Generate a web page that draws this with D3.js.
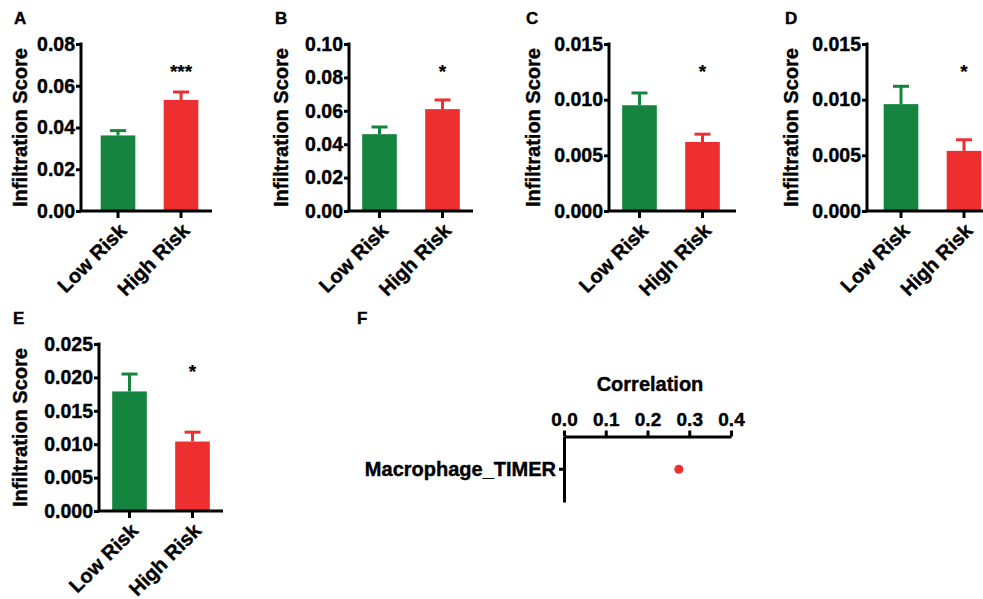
<!DOCTYPE html>
<html lang="en">
<head>
  <meta charset="UTF-8" />
  <title>Infiltration Score panels</title>
  <script src="https://d3js.org/d3.v7.min.js"></script>
  <style>
    body { margin: 0; background: white; }
    svg { background: white; display: block; }
    text { font-family: "Liberation Sans", Arial, sans-serif; font-weight: bold; fill: #000; stroke: #000; stroke-width: 0.4px; }
    .axis path, .axis line { stroke: #000; stroke-width: 3px; }
    .axis text { font-size: 19.5px; font-family: "Liberation Sans", Arial, sans-serif; font-weight: bold; stroke: #000; stroke-width: 0.4px; }
    .panel-letter { font-size: 17px; }
    .axis-title { font-size: 20px; }
    .star { font-size: 19px; text-anchor: middle; stroke-width: 0.2px; }
  </style>
</head>
<body>
  <svg width="983" height="599"></svg>

  <script>
    // data
    const groups = ["Low Risk", "High Risk"];
    const panelIds = ["A", "B", "C", "D", "E"];
    const lowMean = [0.0362, 0.0460, 0.0095, 0.0096, 0.0179];
    const lowSem = [0.0023, 0.0043, 0.0011, 0.0016, 0.0026];
    const highMean = [0.0532, 0.0610, 0.0062, 0.0054, 0.0104];
    const highSem = [0.0038, 0.0055, 0.0007, 0.0010, 0.0014];
    const yMax = [0.08, 0.10, 0.015, 0.015, 0.025];
    const yStep = [0.02, 0.02, 0.005, 0.005, 0.005];
    const yFormat = [".2f", ".2f", ".3f", ".3f", ".3f"];
    const stars = ["***", "*", "*", "*", "*"];

    const corrCells = ["Macrophage_TIMER"];
    const corrValues = [0.275];
    const corrTicks = [0, 0.1, 0.2, 0.3, 0.4];

    const green = "#15843f";
    const red = "#ee2f2f";

    const svg = d3.select("svg");

    // where each bar panel sits on the page
    const layout = [
      { ax: 81,  x0: 86.5,  xEnd: 212, top: 44,  bottom: 211, titleX: 20,  letterX: 14 },
      { ax: 349, x0: 348,   xEnd: 473, top: 44,  bottom: 211, titleX: 281, letterX: 275 },
      { ax: 609, x0: 608,   xEnd: 736, top: 44,  bottom: 211, titleX: 533, letterX: 526 },
      { ax: 867, x0: 869.5, xEnd: 990, top: 44,  bottom: 211, titleX: 791, letterX: 785 },
      { ax: 99,  x0: 98,    xEnd: 223, top: 344, bottom: 511, titleX: 20,  letterX: 13 }
    ];

    panelIds.forEach((id, i) => {
      const L = layout[i];
      const g = svg.append("g");

      const x = d3.scaleBand()
        .domain(groups)
        .range([L.x0, L.x0 + 126])
        .paddingInner(0.45)
        .paddingOuter(0.225);

      const y = d3.scaleLinear()
        .domain([0, yMax[i]])
        .range([L.bottom, L.top]);

      const rows = groups.map((grp, j) => ({
        grp,
        mean: j === 0 ? lowMean[i] : highMean[i],
        sem: j === 0 ? lowSem[i] : highSem[i],
        color: j === 0 ? green : red
      }));

      // bars
      g.selectAll(".bar")
        .data(rows)
        .enter()
        .append("rect")
        .attr("x", d => x(d.grp))
        .attr("width", x.bandwidth())
        .attr("y", d => y(d.mean))
        .attr("height", d => y(0) - y(d.mean))
        .attr("fill", d => d.color);

      // error bars (mean + SEM)
      g.selectAll(".err")
        .data(rows)
        .enter()
        .append("line")
        .attr("x1", d => x(d.grp) + x.bandwidth() / 2)
        .attr("x2", d => x(d.grp) + x.bandwidth() / 2)
        .attr("y1", d => y(d.mean))
        .attr("y2", d => y(d.mean + d.sem))
        .attr("stroke", d => d.color)
        .attr("stroke-width", 3);

      g.selectAll(".cap")
        .data(rows)
        .enter()
        .append("line")
        .attr("x1", d => x(d.grp) + x.bandwidth() / 2 - 8)
        .attr("x2", d => x(d.grp) + x.bandwidth() / 2 + 8)
        .attr("y1", d => y(d.mean + d.sem))
        .attr("y2", d => y(d.mean + d.sem))
        .attr("stroke", d => d.color)
        .attr("stroke-width", 3);

      // y axis
      const yAxis = g.append("g")
        .attr("class", "axis")
        .attr("transform", `translate(${L.ax},0)`)
        .call(d3.axisLeft(y)
          .tickValues(d3.range(0, yMax[i] + yStep[i] / 2, yStep[i]))
          .tickFormat(d3.format(yFormat[i]))
          .tickSize(5)
          .tickSizeOuter(0)
          .tickPadding(1));
      yAxis.select(".domain").attr("d", `M0,${L.top - 1.5}V${L.bottom}`);

      // x axis
      const xAxis = g.append("g")
        .attr("class", "axis")
        .attr("transform", `translate(0,${L.bottom})`)
        .call(d3.axisBottom(x).tickSize(7).tickSizeOuter(0));
      xAxis.select(".domain").attr("d", `M${L.ax - 1.5},0H${L.xEnd}`);
      xAxis.selectAll("text")
        .style("font-size", "20px")
        .attr("text-anchor", "end")
        .attr("dy", "0.35em")
        .attr("y", 0)
        .attr("transform", "translate(5,16) rotate(-45)");

      // significance stars
      g.append("text")
        .attr("class", "star")
        .attr("x", x("High Risk") + x.bandwidth() / 2)
        .attr("y", L.top + 34)
        .text(stars[i]);

      // y title
      g.append("text")
        .attr("class", "axis-title")
        .attr("text-anchor", "middle")
        .attr("transform", `translate(${L.titleX + 7},${(L.top + L.bottom) / 2}) rotate(-90)`)
        .text("Infiltration Score");

      g.append("text")
        .attr("class", "panel-letter")
        .attr("x", L.letterX)
        .attr("y", L.top - 20)
        .text(id);
    });

    // Panel F: correlation dot plot
    const fx = d3.scaleLinear().domain([0, 0.4]).range([564, 731]);
    const fy = d3.scaleBand().domain(corrCells).range([436.5, 502]);

    const fg = svg.append("g");

    const topAxis = fg.append("g")
      .attr("class", "axis")
      .attr("transform", `translate(0,${fy.range()[0]})`)
      .call(d3.axisTop(fx)
        .tickValues(corrTicks)
        .tickFormat(d3.format(".1f"))
        .tickSize(6)
        .tickSizeOuter(0)
        .tickPadding(5));
    topAxis.selectAll("text").style("font-size", "19px");

    const leftAxis = fg.append("g")
      .attr("class", "axis")
      .attr("transform", `translate(${fx(0)},0)`)
      .call(d3.axisLeft(fy).tickSize(5).tickSizeOuter(0).tickPadding(3));
    leftAxis.selectAll("text").style("font-size", "20px").attr("dy", "0.36em");

    fg.selectAll(".dot")
      .data(corrCells)
      .enter()
      .append("circle")
      .attr("cx", (d, i) => fx(corrValues[i]))
      .attr("cy", d => fy(d) + fy.bandwidth() / 2)
      .attr("r", 4.5)
      .attr("fill", red);

    fg.append("text")
      .attr("class", "axis-title")
      .attr("text-anchor", "middle")
      .attr("x", 650)
      .attr("y", 391)
      .text("Correlation");

    fg.append("text")
      .attr("class", "panel-letter")
      .attr("x", 357)
      .attr("y", 324)
      .text("F");
  </script>
</body>
</html>
